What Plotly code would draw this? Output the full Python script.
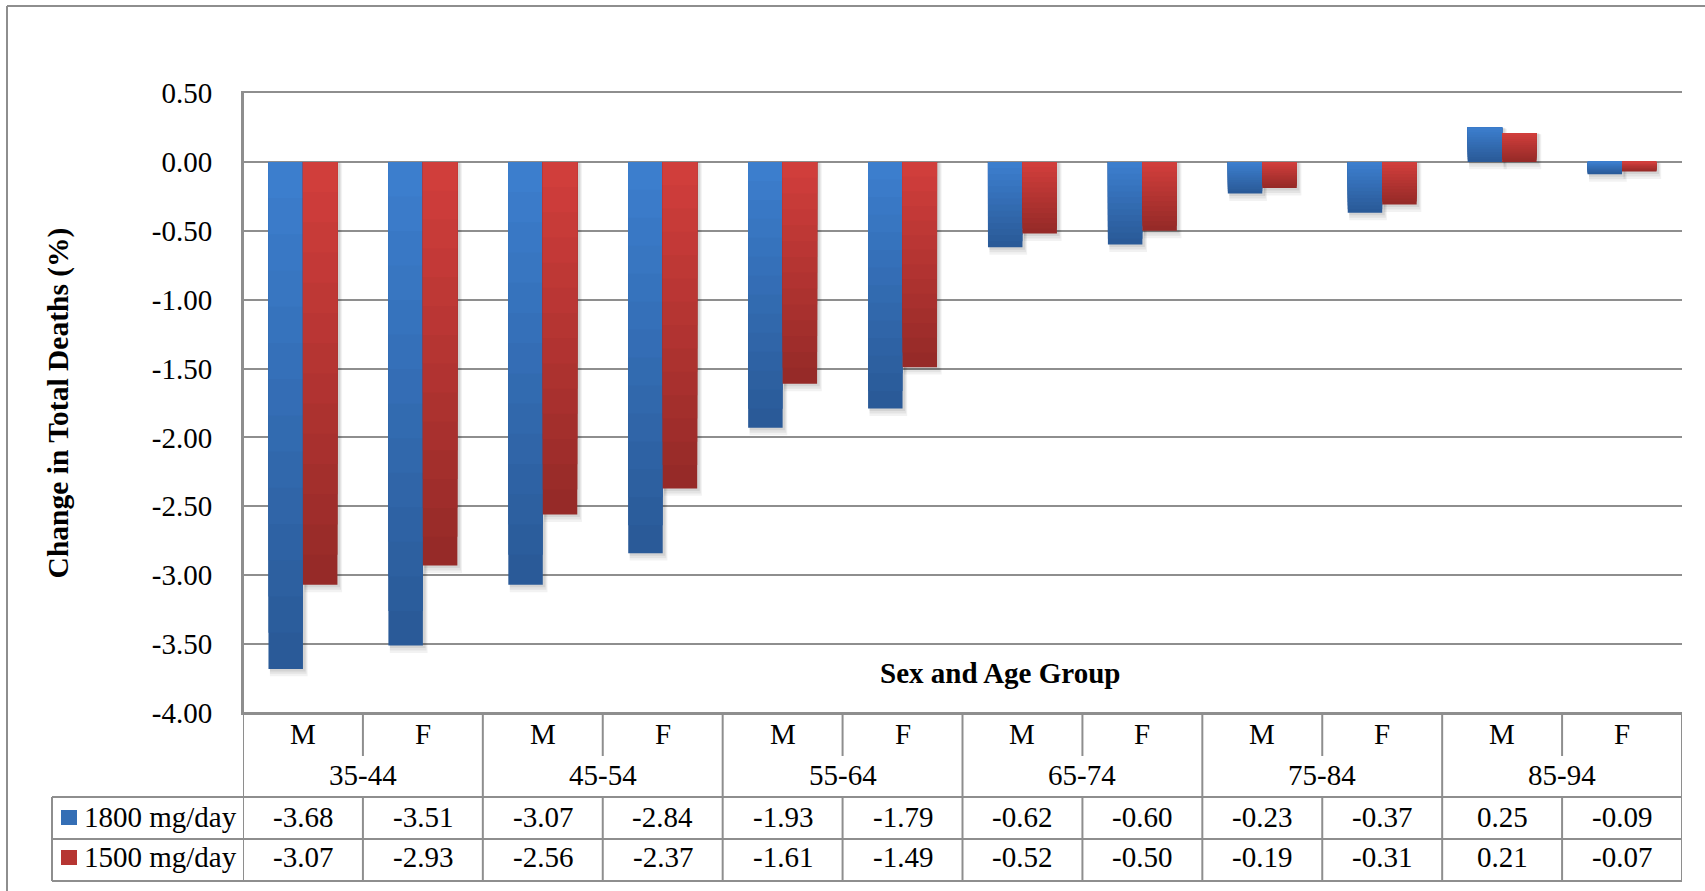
import plotly.graph_objects as go

# ---- data -------------------------------------------------------------
age_groups = ["35-44", "45-54", "55-64", "65-74", "75-84", "85-94"]
sexes = ["M", "F"]
series_names = ["1800 mg/day", "1500 mg/day"]
change_1800 = [-3.68, -3.51, -3.07, -2.84, -1.93, -1.79, -0.62, -0.60, -0.23, -0.37, 0.25, -0.09]
change_1500 = [-3.07, -2.93, -2.56, -2.37, -1.61, -1.49, -0.52, -0.50, -0.19, -0.31, 0.21, -0.07]
y_ticks = [0.5, 0.0, -0.5, -1.0, -1.5, -2.0, -2.5, -3.0, -3.5, -4.0]

# ---- geometry / style --------------------------------------------------
W, H = 1705, 891
L, R, T, B = 243, 23, 93, 178
PLOT_H = H - T - B
FONT = "Liberation Serif, Times New Roman, serif"
FS = 29
GRID = "#8e8e8e"
BAR_W = 0.2875
N_SHADES = 14

# light (top) -> dark (bottom) gradient ends for each series
grad = [((0x3C, 0x7E, 0xCD), (0x2A, 0x5A, 0x98)),
        ((0xD0, 0x3E, 0x3B), (0x96, 0x2A, 0x28))]

n_cols = len(age_groups) * len(sexes)
xs = list(range(n_cols))


def py2paper(py):
    """Pixel row (from top of page) to paper y coordinate."""
    return (H - B - py) / PLOT_H


def px2paper(px):
    return (px - L) / (W - L - R)


def mix(c0, c1, t):
    return "rgb(%d,%d,%d)" % tuple(round(a + (b - a) * t) for a, b in zip(c0, c1))


fig = go.Figure()

# Soft drop shadows under each bar
for s, vals in enumerate([change_1800, change_1500]):
    off = -BAR_W if s == 0 else 0.0
    for spread, alpha in [(0.045, 0.05), (0.03, 0.06), (0.015, 0.07)]:
        tops = [max(v, 0) for v in vals]
        bots = [min(v, 0) for v in vals]
        fig.add_trace(go.Bar(
            x=xs, y=[t - b + spread for t, b in zip(tops, bots)],
            base=[b - spread * 1.2 for b in bots],
            width=BAR_W + spread * 0.6, offset=off + 0.012,
            marker=dict(color="rgba(0,0,0,%.3f)" % alpha, line=dict(width=0)),
            hoverinfo="skip", showlegend=False))

# Bars drawn as layered shades: full-length dark bar first, then shorter
# lighter layers from the top edge, giving a vertical gradient.
for s, vals in enumerate([change_1800, change_1500]):
    light, dark = grad[s]
    off = -BAR_W if s == 0 else 0.0
    for j in range(N_SHADES):
        frac = (N_SHADES - j) / N_SHADES
        tops = [max(v, 0) for v in vals]
        spans = [abs(v) for v in vals]
        fig.add_trace(go.Bar(
            x=xs,
            y=[sp * frac for sp in spans],
            base=[t - sp * frac for t, sp in zip(tops, spans)],
            width=BAR_W, offset=off,
            marker=dict(color=mix(dark, light, j / (N_SHADES - 1)), line=dict(width=0)),
            name=series_names[s], showlegend=False,
            customdata=vals,
            hovertemplate="%{customdata:.2f}<extra>" + series_names[s] + "</extra>"))

shapes = []
annotations = []


def hline(x0, x1, py, xref="paper"):
    shapes.append(dict(type="line", xref=xref, yref="paper", x0=x0, x1=x1,
                       y0=py2paper(py), y1=py2paper(py),
                       line=dict(color=GRID, width=2), layer="above"))


def vline(x, py0, py1, xref="x"):
    shapes.append(dict(type="line", xref=xref, yref="paper", x0=x, x1=x,
                       y0=py2paper(py0), y1=py2paper(py1),
                       line=dict(color=GRID, width=2), layer="above"))


# Outer frame
hline(px2paper(7), px2paper(W + 5), 6)
vline(px2paper(7), 6, H + 5, xref="paper")

# Data table rows (pixel rows)
ROW_TOP, ROW_SEX, ROW_AGE, ROW_A, ROW_B = 713, 756, 797, 839, 881
LEG_X = 52

hline(-0.5, n_cols - 0.5, ROW_TOP, xref="x")
for py in (ROW_AGE, ROW_A, ROW_B):
    hline(px2paper(LEG_X), 1.0, py)
vline(px2paper(LEG_X), ROW_AGE, ROW_B, xref="paper")
vline(-0.5, T, ROW_B)
for g in range(len(age_groups)):
    vline(2 * g + 1.5, ROW_TOP, ROW_B)
    vline(2 * g + 0.5, ROW_TOP, ROW_SEX)
    vline(2 * g + 0.5, ROW_AGE, ROW_B)


def text(x, py, s, xref="x", xanchor="center"):
    annotations.append(dict(
        x=x, y=py2paper(py), xref=xref, yref="paper", text=s, showarrow=False,
        xanchor=xanchor, yanchor="middle",
        font=dict(family=FONT, size=FS, color="black")))


for i in xs:
    text(i, 734, sexes[i % 2])
    text(i, 817, "%.2f" % change_1800[i])
    text(i, 857, "%.2f" % change_1500[i])
for g, lab in enumerate(age_groups):
    text(2 * g + 0.5, 775, lab)

# Legend keys inside the table
for s, (py, name) in enumerate([(818, series_names[0]), (858, series_names[1])]):
    light, dark = grad[s]
    shapes.append(dict(type="rect", xref="paper", yref="paper",
                       x0=px2paper(61), x1=px2paper(77),
                       y0=py2paper(py - 8), y1=py2paper(py + 7),
                       fillcolor=mix(dark, light, 0.55), line=dict(width=0)))
    text(px2paper(82), py - 1, name, xref="paper", xanchor="left")

# X axis title sits inside the plot area above the table
annotations.append(dict(
    x=px2paper(1000), y=py2paper(673), xref="paper", yref="paper",
    text="<b>Sex and Age Group</b>", showarrow=False,
    xanchor="center", yanchor="middle",
    font=dict(family=FONT, size=FS, color="black")))

fig.update_layout(
    width=W, height=H,
    margin=dict(l=L, r=R, t=T, b=B, pad=0),
    barmode="overlay",
    paper_bgcolor="white", plot_bgcolor="white",
    showlegend=False,
    font=dict(family=FONT, size=FS, color="black"),
    shapes=shapes, annotations=annotations,
    xaxis=dict(range=[-0.5, n_cols - 0.5], showticklabels=False, showgrid=False,
               zeroline=False, showline=True, mirror=True,
               linecolor=GRID, linewidth=2, ticks=""),
    yaxis=dict(range=[-4.0, 0.5], tickvals=y_ticks,
               ticktext=["%.2f" % v for v in y_ticks],
               showgrid=True, gridcolor=GRID, gridwidth=2,
               zeroline=True, zerolinecolor=GRID, zerolinewidth=2,
               showline=True, linecolor=GRID, linewidth=2,
               ticks="", ticklabelstandoff=23,
               tickfont=dict(family=FONT, size=FS, color="black"),
               title=dict(text="<b>Change in Total Deaths (%)</b>", standoff=74,
                          font=dict(family=FONT, size=29.5, color="black"))),
)

fig.write_html("out.html")
